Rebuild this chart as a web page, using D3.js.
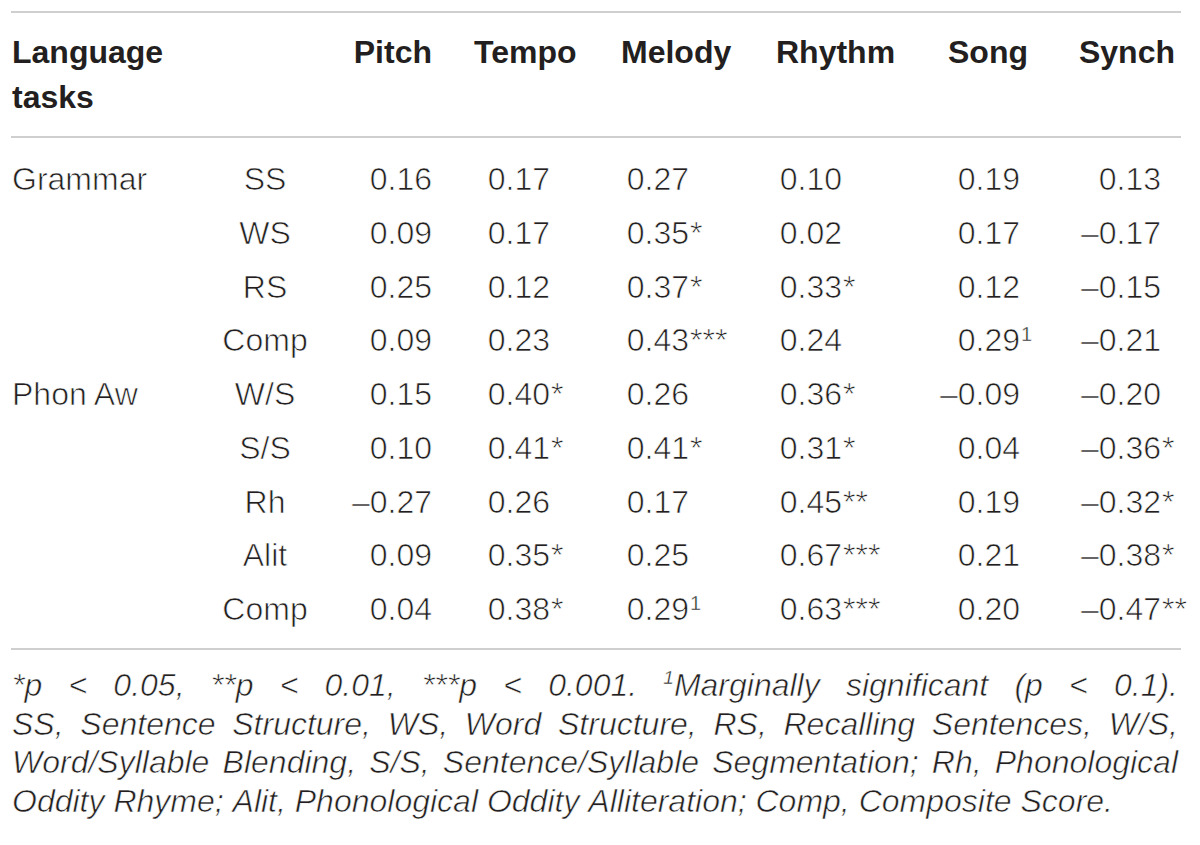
<!DOCTYPE html>
<html>
<head>
<meta charset="utf-8">
<script src="https://cdn.jsdelivr.net/npm/d3@7"></script>
<style>
  body { margin: 0; background: #fff; }
  svg { display: block; }
</style>
</head>
<body>
<div id="table"></div>
<script>
  // table content
  let measures = ['Pitch', 'Tempo', 'Melody', 'Rhythm', 'Song', 'Synch'];
  let groups = ['Grammar', 'Phon Aw'];
  let groupOf = [0, 0, 0, 0, 1, 1, 1, 1, 1];
  let tasks = ['SS', 'WS', 'RS', 'Comp', 'W/S', 'S/S', 'Rh', 'Alit', 'Comp'];

  let pitch = [0.16, 0.09, 0.25, 0.09, 0.15, 0.10, -0.27, 0.09, 0.04];
  let tempo = [0.17, 0.17, 0.12, 0.23, 0.40, 0.41, 0.26, 0.35, 0.38];
  let melody = [0.27, 0.35, 0.37, 0.43, 0.26, 0.41, 0.17, 0.25, 0.29];
  let rhythm = [0.10, 0.02, 0.33, 0.24, 0.36, 0.31, 0.45, 0.67, 0.63];
  let song = [0.19, 0.17, 0.12, 0.29, -0.09, 0.04, 0.19, 0.21, 0.20];
  let synch = [0.13, -0.17, -0.15, -0.21, -0.20, -0.36, -0.32, -0.38, -0.47];

  // significance marks, same order as the values
  let pitchSig = ['', '', '', '', '', '', '', '', ''];
  let tempoSig = ['', '', '', '', '*', '*', '', '*', '*'];
  let melodySig = ['', '*', '*', '***', '', '*', '', '', '1'];
  let rhythmSig = ['', '', '*', '', '*', '*', '**', '***', '***'];
  let songSig = ['', '', '', '1', '', '', '', '', ''];
  let synchSig = ['', '', '', '', '', '*', '*', '*', '**'];

  let footLines = [
    '*p < 0.05, **p < 0.01, ***p < 0.001. ¹Marginally significant (p < 0.1).',
    'SS, Sentence Structure, WS, Word Structure, RS, Recalling Sentences, W/S,',
    'Word/Syllable Blending, S/S, Sentence/Syllable Segmentation; Rh, Phonological',
    'Oddity Rhyme; Alit, Phonological Oddity Alliteration; Comp, Composite Score.'
  ];

  let values = [pitch, tempo, melody, rhythm, song, synch];
  let sigs = [pitchSig, tempoSig, melodySig, rhythmSig, songSig, synchSig];

  let width = 1200;
  let height = 845;
  let left = 11, right = 1181;
  let ink = '#231f20';
  let rule = '#cfcfcf';
  let font = '"Liberation Sans", Arial, Helvetica, sans-serif';

  let svg = d3.select('#table')
    .append('svg')
    .attr('width', width)
    .attr('height', height)
    .style('font-family', font);

  svg.append('rect').attr('width', width).attr('height', height).attr('fill', '#fff');

  // horizontal rules
  svg.selectAll('.rule')
    .data([12, 137, 649])
    .enter()
    .append('line')
    .attr('class', 'rule')
    .attr('x1', left).attr('x2', right)
    .attr('y1', d => d).attr('y2', d => d)
    .attr('stroke', rule)
    .attr('stroke-width', 2);

  // column anchors (right edge of the number part)
  let colX = d3.scaleOrdinal().domain(measures).range([432, 550, 689, 842, 1020, 1161]);
  let headX = d3.scaleOrdinal().domain(measures).range([432, 474, 621, 776, 1028, 1175]);
  let headAnchor = d3.scaleOrdinal().domain(measures).range(['end', 'start', 'start', 'start', 'end', 'end']);
  let y = d3.scaleLinear().domain([0, tasks.length - 1]).range([190, 620]);
  let fmt = v => d3.format('.2f')(v).replace('−', '–').replace('-', '–');

  // header
  let head = svg.append('g')
    .style('font-weight', 'bold')
    .style('font-size', '32px')
    .attr('fill', ink);

  head.append('text').attr('x', 12).attr('y', 63).text('Language');
  head.append('text').attr('x', 12).attr('y', 108).text('tasks');

  head.selectAll('.mhead')
    .data(measures)
    .enter()
    .append('text')
    .attr('class', 'mhead')
    .attr('x', d => headX(d))
    .attr('y', 63)
    .attr('text-anchor', d => headAnchor(d))
    .text(d => d);

  // light-looking body text: thin white outline over the glyphs
  let body = svg.append('g')
    .style('font-size', '32px')
    .attr('fill', ink)
    .attr('stroke', '#fff')
    .attr('stroke-width', 0.7);

  // group labels on the first row of each group
  body.selectAll('.group')
    .data(groups)
    .enter()
    .append('text')
    .attr('class', 'group')
    .attr('x', 12)
    .attr('y', (d, i) => y(groupOf.indexOf(i)))
    .text(d => d);

  body.selectAll('.task')
    .data(tasks)
    .enter()
    .append('text')
    .attr('class', 'task')
    .attr('x', 265)
    .attr('y', (d, i) => y(i))
    .attr('text-anchor', 'middle')
    .text(d => d);

  // value cells
  let cells = [];
  measures.forEach((m, j) => {
    values[j].forEach((v, i) => cells.push({ m, i, v, sig: sigs[j][i] }));
  });

  let cell = body.selectAll('.cell')
    .data(cells)
    .enter()
    .append('g')
    .attr('class', 'cell')
    .attr('transform', d => `translate(${colX(d.m)}, ${y(d.i)})`);

  cell.append('text')
    .attr('text-anchor', 'end')
    .text(d => fmt(d.v));

  cell.filter(d => d.sig === '*' || d.sig === '**' || d.sig === '***')
    .append('text')
    .attr('x', 1)
    .text(d => d.sig);

  cell.filter(d => d.sig === '1')
    .append('text')
    .attr('x', 1)
    .attr('y', -10)
    .attr('stroke-width', 0.4)
    .style('font-size', '20px')
    .text('1');

  // footnote, justified between the rules' ends
  let foot = svg.append('g')
    .style('font-size', '32px')
    .style('font-style', 'italic')
    .attr('fill', ink)
    .attr('stroke', '#fff')
    .attr('stroke-width', 0.6);

  let footY = d3.scaleLinear().domain([0, footLines.length - 1]).range([696, 812]);
  let fx0 = 12, fx1 = 1178;

  footLines.forEach((line, li) => {
    let words = line.split(' ');
    let nodes = words.map(w => {
      let t = foot.append('text').attr('y', footY(li));
      let up = false;
      w.split(/(¹)/).filter(s => s.length).forEach(part => {
        if (part === '¹') {
          t.append('tspan').attr('dy', -12).attr('stroke-width', 0.4).style('font-size', '19px').text('1');
          up = true;
        } else {
          let s = t.append('tspan').text(part);
          if (up) { s.attr('dy', 12); up = false; }
        }
      });
      return t;
    });
    let widths = nodes.map(n => n.node().getComputedTextLength());
    let total = d3.sum(widths);
    let gap = li < footLines.length - 1 ? (fx1 - fx0 - total) / (words.length - 1) : 8.9;
    let x = fx0;
    nodes.forEach((n, k) => {
      n.attr('x', x);
      x += widths[k] + gap;
    });
  });
</script>
</body>
</html>
